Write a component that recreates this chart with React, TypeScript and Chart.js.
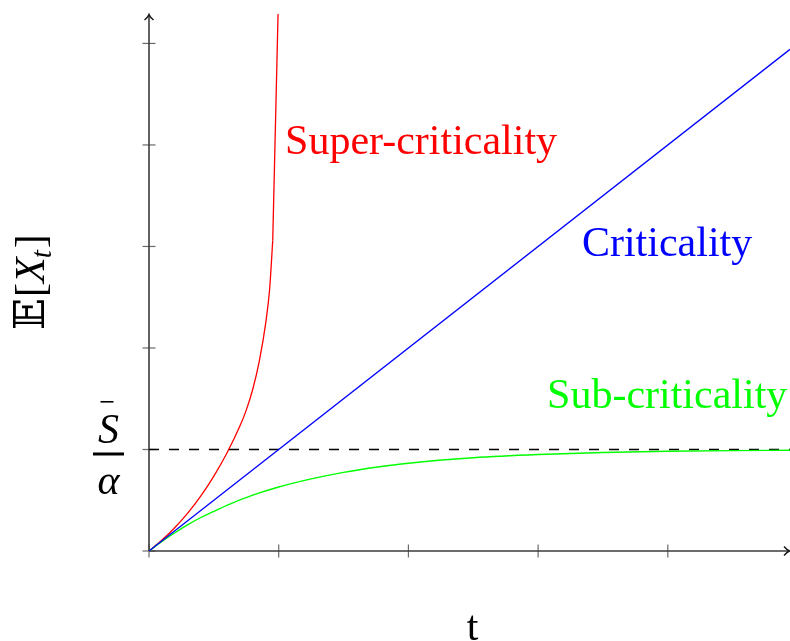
import React, { useEffect, useRef } from "react";
import { Chart, registerables } from "chart.js";

Chart.register(...registerables);

// ---- data ----
const xTicks = [0, 1, 2, 3, 4];
const yTicks = [0, 1, 2, 3, 4, 5];
const thresholdLevel = 1; // S̄ / α

const criticalX = [0, 4.942];
const criticalY = [0, 4.942];

const subX = [0, 0.1, 0.2, 0.3, 0.4, 0.5, 0.6, 0.8, 1.0, 1.25, 1.5, 1.75, 2.0, 2.5, 3.0, 3.5, 4.0, 4.5, 4.942];
const subY = [0, 0.095, 0.18, 0.26, 0.33, 0.39, 0.45, 0.55, 0.63, 0.71, 0.775, 0.825, 0.865, 0.918, 0.95, 0.97, 0.982, 0.989, 0.993];

const superX = [0, 0.1, 0.2, 0.3, 0.4, 0.5, 0.6, 0.7, 0.75, 0.8, 0.85, 0.9, 0.93, 0.954, 0.995];
const superY = [0, 0.108, 0.232, 0.375, 0.543, 0.738, 0.963, 1.228, 1.388, 1.593, 1.868, 2.248, 2.578, 3.058, 5.29];

const X_MAX = 4.942;
const Y_MAX = 5.29;

const SERIF = '"Liberation Serif", "Times New Roman", serif';

function pts(xs: number[], ys: number[]) {
  return xs.map((x, i) => ({ x, y: ys[i] }));
}

const axesPlugin = {
  id: "texAxes",
  beforeDatasetsDraw(chart: any) {
    const { ctx } = chart;
    const xs = chart.scales.x;
    const ys = chart.scales.y;
    const x0 = xs.getPixelForValue(0);
    const y0 = ys.getPixelForValue(0);
    const xEnd = xs.getPixelForValue(X_MAX);
    const yEnd = ys.getPixelForValue(Y_MAX);
    ctx.save();
    // ticks
    ctx.strokeStyle = "#6a6a6a";
    ctx.lineWidth = 1.2;
    yTicks.forEach((v) => {
      const p = ys.getPixelForValue(v);
      ctx.beginPath();
      ctx.moveTo(x0 - 6.5, p);
      ctx.lineTo(x0 + 6.5, p);
      ctx.stroke();
    });
    xTicks.forEach((v) => {
      const p = xs.getPixelForValue(v);
      ctx.beginPath();
      ctx.moveTo(p, y0 - 6.5);
      ctx.lineTo(p, y0 + 6.5);
      ctx.stroke();
    });
    // axis lines
    ctx.strokeStyle = "#3c3c3c";
    ctx.lineWidth = 1.6;
    ctx.beginPath();
    ctx.moveTo(x0, y0);
    ctx.lineTo(xEnd - 1, y0);
    ctx.moveTo(x0, y0);
    ctx.lineTo(x0, yEnd + 1);
    ctx.stroke();
    // arrow heads
    ctx.strokeStyle = "#111";
    ctx.lineWidth = 1.4;
    ctx.beginPath();
    ctx.moveTo(xEnd - 6, y0 - 4.5);
    ctx.quadraticCurveTo(xEnd - 3, y0 - 1, xEnd - 0.5, y0);
    ctx.quadraticCurveTo(xEnd - 3, y0 + 1, xEnd - 6, y0 + 4.5);
    ctx.moveTo(x0 - 4.5, yEnd + 6);
    ctx.quadraticCurveTo(x0 - 1, yEnd + 3, x0, yEnd + 0.5);
    ctx.quadraticCurveTo(x0 + 1, yEnd + 3, x0 + 4.5, yEnd + 6);
    ctx.stroke();
    ctx.restore();
  },
  afterDraw(chart: any) {
    const { ctx } = chart;
    const xs = chart.scales.x;
    const ys = chart.scales.y;
    ctx.save();
    ctx.textBaseline = "alphabetic";
    ctx.textAlign = "left";
    ctx.font = `42px ${SERIF}`;
    // curve labels
    ctx.fillStyle = "#ff0000";
    ctx.fillText("Super-criticality", xs.getPixelForValue(1.049), ys.getPixelForValue(3.911));
    ctx.fillStyle = "#0000ff";
    ctx.fillText("Criticality", xs.getPixelForValue(3.338), ys.getPixelForValue(2.906));
    ctx.fillStyle = "#00ff00";
    ctx.fillText("Sub-criticality", xs.getPixelForValue(3.069), ys.getPixelForValue(1.409));

    // x axis title
    ctx.fillStyle = "#000";
    ctx.textAlign = "center";
    ctx.fillText("t", 472.5, 640);

    // threshold tick label: S̄ / α
    const ty = ys.getPixelForValue(thresholdLevel);
    const cx = xs.getPixelForValue(0) - 40.5;
    ctx.font = `italic 42px ${SERIF}`;
    ctx.fillText("S", cx, ty - 6.5);
    ctx.fillRect(cx - 15.5, ty + 3, 31, 3);
    ctx.fillText("α", cx, ty + 44.5);
    ctx.fillRect(cx - 8, ty - 48.5, 13, 1.6);

    // y axis title: 𝔼[X_t]
    ctx.translate(44, 330);
    ctx.rotate(-Math.PI / 2);
    ctx.textAlign = "left";
    let px = 0;
    ctx.font = `42px "DejaVu Serif", "DejaVu Sans", ${SERIF}`;
    ctx.fillText("𝔼", px, 0);
    px += ctx.measureText("𝔼").width + 1;
    ctx.font = `42px ${SERIF}`;
    ctx.fillText("[", px, 0);
    px += ctx.measureText("[").width;
    ctx.font = `italic 42px ${SERIF}`;
    ctx.fillText("X", px, 0);
    px += ctx.measureText("X").width - 1;
    ctx.font = `italic 29px ${SERIF}`;
    ctx.fillText("t", px, 7);
    px += ctx.measureText("t").width + 2;
    ctx.font = `42px ${SERIF}`;
    ctx.fillText("]", px, 0);
    ctx.restore();
  },
};

export default function App() {
  const ref = useRef<HTMLCanvasElement | null>(null);
  useEffect(() => {
    if (!ref.current) return;
    const n = superX.length;
    const chart = new Chart(ref.current, {
      type: "line",
      data: {
        datasets: [
          {
            data: pts(criticalX, criticalY),
            borderColor: "#0000ff",
            borderWidth: 1.3,
            pointRadius: 0,
            clip: false as any,
          },
          {
            data: pts(subX, subY),
            borderColor: "#00ff00",
            borderWidth: 1.4,
            pointRadius: 0,
            cubicInterpolationMode: "monotone",
            clip: false as any,
          },
          {
            data: pts(superX.slice(0, n - 1), superY.slice(0, n - 1)),
            borderColor: "#ff0000",
            borderWidth: 1.3,
            pointRadius: 0,
            cubicInterpolationMode: "monotone",
            clip: false as any,
          },
          {
            data: pts(superX.slice(n - 2), superY.slice(n - 2)),
            borderColor: "#ff0000",
            borderWidth: 1.3,
            pointRadius: 0,
            clip: false as any,
          },
          {
            data: pts([0, X_MAX], [thresholdLevel, thresholdLevel]),
            borderColor: "#000000",
            borderWidth: 1.5,
            borderDash: [10, 10],
            pointRadius: 0,
            clip: false as any,
          },
        ],
      },
      options: {
        animation: false,
        responsive: false,
        layout: { padding: { left: 149, top: 14, right: 0, bottom: 90 } },
        plugins: { legend: { display: false }, tooltip: { enabled: false } },
        scales: {
          x: { type: "linear", min: 0, max: X_MAX, display: false },
          y: { type: "linear", min: 0, max: Y_MAX, display: false },
        },
      },
      plugins: [axesPlugin],
    });
    return () => chart.destroy();
  }, []);
  return (
    <div style={{ position: "fixed", left: 0, top: 0, width: 790, height: 641, background: "#fff" }}>
      <canvas ref={ref} width={790} height={641} style={{ display: "block" }} />
    </div>
  );
}
